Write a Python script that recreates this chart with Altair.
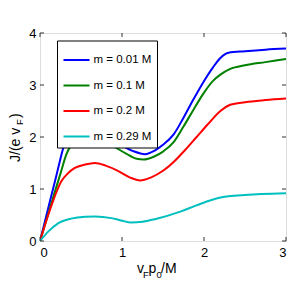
import altair as alt
import pandas as pd

# ---- data ----
labels = ["m = 0.01 M", "m = 0.1 M", "m = 0.2 M", "m = 0.29 M"]
colors = ["#0000ff", "#008000", "#ff0000", "#00bfbf"]

x_blue = [0, 0.1, 0.2, 0.29, 0.34, 0.4, 0.47, 0.55, 0.7, 0.85, 1.0, 1.15, 1.28, 1.4, 1.5, 1.63, 1.75, 1.87, 1.99, 2.11, 2.2, 2.3, 2.5, 2.75, 3.0]
y_blue = [0, 0.63, 1.26, 1.82, 2.02, 2.12, 2.17, 2.19, 2.14, 2.0, 1.84, 1.72, 1.67, 1.74, 1.85, 2.05, 2.37, 2.72, 3.05, 3.34, 3.52, 3.62, 3.65, 3.68, 3.70]

x_green = [0, 0.1, 0.18, 0.26, 0.32, 0.37, 0.42, 0.5, 0.61, 0.75, 0.9, 1.05, 1.18, 1.26, 1.4, 1.5, 1.63, 1.75, 1.87, 1.99, 2.11, 2.2, 2.32, 2.5, 2.75, 3.0]
y_green = [0, 0.52, 0.94, 1.35, 1.66, 1.82, 1.92, 1.98, 2.0, 1.95, 1.82, 1.68, 1.58, 1.565, 1.63, 1.72, 1.9, 2.2, 2.52, 2.83, 3.08, 3.2, 3.31, 3.38, 3.44, 3.50]

x_red = [0, 0.1, 0.18, 0.26, 0.34, 0.42, 0.55, 0.67, 0.8, 0.95, 1.1, 1.22, 1.35, 1.5, 1.63, 1.77, 1.91, 2.05, 2.2, 2.32, 2.5, 2.75, 3.0]
y_red = [0, 0.5, 0.86, 1.15, 1.3, 1.4, 1.47, 1.5, 1.45, 1.35, 1.22, 1.165, 1.22, 1.35, 1.52, 1.75, 2.0, 2.25, 2.5, 2.62, 2.67, 2.71, 2.74]

x_cyan = [0, 0.1, 0.22, 0.38, 0.55, 0.67, 0.87, 1.0, 1.11, 1.25, 1.4, 1.72, 1.9, 2.09, 2.25, 2.41, 2.7, 3.0]
y_cyan = [0, 0.18, 0.34, 0.43, 0.465, 0.47, 0.44, 0.39, 0.355, 0.37, 0.42, 0.57, 0.68, 0.79, 0.85, 0.875, 0.905, 0.92]

x_ticks = [0, 1, 2, 3]
y_ticks = [0, 1, 2, 3, 4]

series_x = [x_blue, x_green, x_red, x_cyan]
series_y = [y_blue, y_green, y_red, y_cyan]

rows = []
for lab, xs, ys in zip(labels, series_x, series_y):
    for a, b in zip(xs, ys):
        rows.append({"series": lab, "x": a, "y": b})
df = pd.DataFrame(rows)

W, H = 246, 208
FONT = "Liberation Sans"

xscale = alt.Scale(domain=[0, 3], nice=False, zero=False)
yscale = alt.Scale(domain=[0, 4], nice=False, zero=False)

def xenc(field):
    return alt.X(field, scale=xscale, axis=alt.Axis(values=x_ticks, format="d", title=None, ticks=False,
                                                   domain=False, grid=False, labelFont=FONT, labelFontSize=13,
                                                   labelColor="black", labelPadding=5))

def yenc(field):
    return alt.Y(field, scale=yscale, axis=alt.Axis(values=y_ticks, format="d", title=None, ticks=False,
                                                   domain=False, grid=False, labelFont=FONT, labelFontSize=13,
                                                   labelColor="black", labelPadding=4))

lines = alt.Chart(df).mark_line(strokeWidth=2, interpolate="monotone", clip=True).encode(
    x=xenc("x:Q"),
    y=yenc("y:Q"),
    color=alt.Color("series:N", scale=alt.Scale(domain=labels, range=colors),
                    legend=alt.Legend(title=None, orient="none", legendX=17, legendY=7.5,
                                      strokeColor="black", fillColor="white", padding=5.5,
                                      symbolType="stroke", symbolStrokeWidth=2, symbolSize=676,
                                      labelFont=FONT, labelFontSize=11.5, labelColor="black",
                                      labelOffset=3, rowPadding=5.5)),
    order=alt.Order("x:Q"),
)

xt = pd.DataFrame({"v": x_ticks})
yt = pd.DataFrame({"v": y_ticks})
tick_color = "#333333"
tb = alt.Chart(xt).mark_rule(color=tick_color, strokeWidth=1).encode(x=xenc("v:Q"), y=alt.value(H), y2=alt.value(H - 4))
tt = alt.Chart(xt).mark_rule(color=tick_color, strokeWidth=1).encode(x=xenc("v:Q"), y=alt.value(0), y2=alt.value(4))
tl = alt.Chart(yt).mark_rule(color=tick_color, strokeWidth=1).encode(y=yenc("v:Q"), x=alt.value(0), x2=alt.value(4))
tr = alt.Chart(yt).mark_rule(color=tick_color, strokeWidth=1).encode(y=yenc("v:Q"), x=alt.value(W), x2=alt.value(W - 4))

def txt(s, x, y, size, angle=0):
    kw = dict(align="left", baseline="alphabetic", font=FONT, fontSize=size, color="black")
    if angle:
        kw["angle"] = angle
    return alt.Chart(pd.DataFrame({"t": [s]})).mark_text(**kw).encode(
        text="t:N", x=alt.value(x), y=alt.value(y))

# x-axis title: v_F p_0/M
xt1 = txt("v", 97, 240, 14)
xt2 = txt("F", 103, 244.5, 9.5)
xt3 = txt("p", 108.5, 240, 14)
xt4 = txt("0", 116.5, 244.5, 9.5)
xt5 = txt("/M", 121, 240, 14)
# y-axis title: J/(e v_F)
yt1 = txt("J/(e v", -20.5, 129, 14, 270)
yt2 = txt("F", -17.5, 92, 9.5, 270)
yt3 = txt(")", -20.5, 85, 14, 270)

chart = alt.layer(lines, tb, tt, tl, tr, xt1, xt2, xt3, xt4, xt5, yt1, yt2, yt3).properties(
    width=W, height=H,
    autosize=alt.AutoSizeParams(type="none"),
    padding={"left": 32, "top": 25, "right": 6, "bottom": 51},
).configure_view(stroke="black", strokeWidth=1).configure(background="white")

chart.save("out.html", embed_options={"renderer": "svg", "actions": False})
